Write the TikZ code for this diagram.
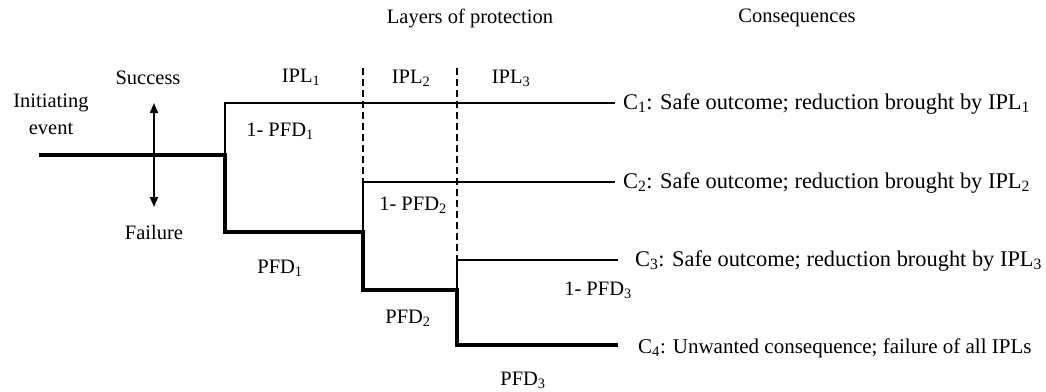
\documentclass[tikz,border=0pt]{standalone}
\usepackage{fontspec}
\setmainfont{Liberation Serif}
\usetikzlibrary{arrows.meta}
\begin{document}
\begin{tikzpicture}[x=1pt,y=-1pt,
  lbl/.style={font=\fontsize{20.5}{27}\selectfont, inner sep=0pt},
  cons/.style={font=\fontsize{22.4}{27}\selectfont, inner sep=0pt, anchor=west},
  branchline/.style={line width=1.6pt},
  failline/.style={line width=3.2pt, line join=miter},
  layerline/.style={line width=1.5pt, dash pattern=on 7pt off 4pt},
  sfarrow/.style={line width=1.8pt, {Triangle[length=10pt,width=8pt]}-{Triangle[length=10pt,width=8pt]}}
]
\useasboundingbox (0,0) rectangle (1046,391);
% key points
\coordinate (ie) at (39,155);
\coordinate (n1) at (225,155);
\coordinate (s1) at (225,103);
\coordinate (f1) at (225,232);
\coordinate (e1) at (615,103);
\coordinate (s2) at (363,182);
\coordinate (f2a) at (363,232);
\coordinate (f2) at (363,290);
\coordinate (e2) at (615,182);
\coordinate (s3) at (457,260);
\coordinate (f3a) at (457,290);
\coordinate (f3) at (457,345);
\coordinate (e3) at (618,260);
\coordinate (e4) at (618,345);
\coordinate (d1t) at (363,68);
\coordinate (d2t) at (457,68);
\coordinate (at) at (154,103);
\coordinate (ab) at (154,207);
% texts
\node[lbl] (layers) at (470,18) {Layers of protection};
\node[lbl] (consq) at (797,18) {Consequences};
\node[lbl] (succ) at (148,78) {Success};
\node[lbl, align=center] (init) at (51,114) {Initiating\\event};
\node[lbl] (ipl1) at (301,77) {IPL\textsubscript{1}};
\node[lbl] (ipl2) at (411,78) {IPL\textsubscript{2}};
\node[lbl] (ipl3) at (511,78) {IPL\textsubscript{3}};
\node[lbl] (p1s) at (280,131) {1- PFD\textsubscript{1}};
\node[lbl] (fail) at (154,232) {Failure};
\node[lbl] (p1f) at (280,268) {PFD\textsubscript{1}};
\node[lbl] (p2s) at (413,205) {1- PFD\textsubscript{2}};
\node[lbl] (p2f) at (408,318) {PFD\textsubscript{2}};
\node[lbl] (p3s) at (598,290) {1- PFD\textsubscript{3}};
\node[lbl] (p3f) at (523,380) {PFD\textsubscript{3}};
\node[cons] (c1) at (623,104) {C\textsubscript{1}: Safe outcome; reduction brought by IPL\textsubscript{1}};
\node[cons] (c2) at (623,183) {C\textsubscript{2}: Safe outcome; reduction brought by IPL\textsubscript{2}};
\node[cons] (c3) at (635,261) {C\textsubscript{3}: Safe outcome; reduction brought by IPL\textsubscript{3}};
\node[cons, font=\fontsize{21}{27}\selectfont] (c4) at (638,348) {C\textsubscript{4}: Unwanted consequence; failure of all IPLs};
% layer separators
\draw[layerline] (d1t) -- (s2);
\draw[layerline] (d2t) -- (s3);
% success branches
\draw[branchline] (n1) -- (s1) -- (e1);
\draw[branchline] (f2a) -- (s2) -- (e2);
\draw[branchline] (f3a) -- (s3) -- (e3);
% failure path
\draw[failline] (ie) -- (n1) -- (f1) -- (f2a) -- (f2) -- (f3a) -- (f3) -- (e4);
% success/failure arrow
\draw[sfarrow] (at) -- (ab);
\end{tikzpicture}
\end{document}
